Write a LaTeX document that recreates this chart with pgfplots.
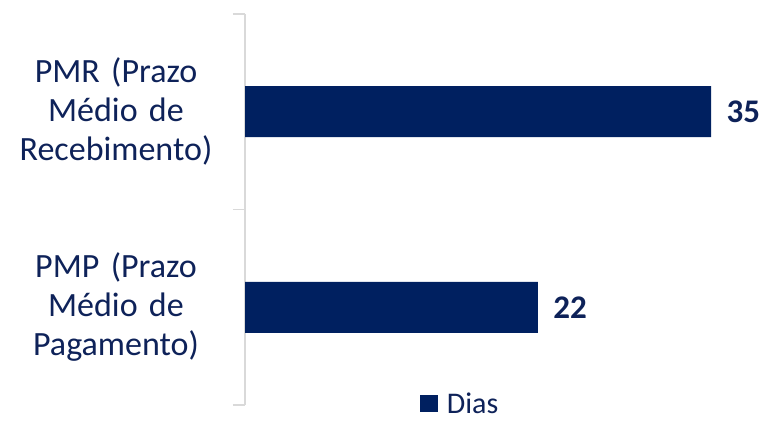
\documentclass[border=0pt]{standalone}
\usepackage{pgfplots}
\pgfplotsset{compat=1.18}
\usepackage{fontspec}
\setmainfont{Carlito}
\definecolor{bar}{HTML}{002060}
\definecolor{txt}{HTML}{0E2259}
\definecolor{axg}{HTML}{D9D9D9}
\begin{document}
\begin{tikzpicture}
\useasboundingbox (0,0) rectangle (762pt,423pt);
\begin{axis}[
  at={(245pt,18pt)}, anchor=south west,
  scale only axis, width=506pt, height=391pt,
  xbar, bar width=51pt,
  xmin=0, xmax=38, ymin=-0.5, ymax=1.5,
  axis x line=none,
  axis y line=left,
  y axis line style={-, draw=axg, line width=1.5pt},
  ytick={-0.5,0.5,1.5},
  yticklabels={},
  tick align=outside,
  major tick length=12pt,
  ytick style={draw=axg, line width=1.5pt},
  extra y ticks={0,1},
  extra y tick labels={{PMP (Prazo\\Médio de\\Pagamento)},{PMR (Prazo\\Médio de\\Recebimento)}},
  extra y tick style={major tick length=0pt, ytick style={draw=none},
    yticklabel style={anchor=east, text width=215pt, align=center, font=\fontsize{34}{39}\selectfont, text=txt, xshift=-18pt}},
  /pgf/number format/assume math mode=true,
  nodes near coords,
  nodes near coords style={anchor=west, xshift=12pt, font=\fontsize{33}{40}\selectfont\bfseries, text=txt},
  legend style={at={(0.425,0.003)}, anchor=center, draw=none, fill=none, font=\fontsize{30}{36}\selectfont, text=txt, inner sep=0pt, column sep=7pt},
  clip=false,
]
\addplot[fill=bar, draw=none, legend image code/.code={\fill[bar] (0pt,-8pt) rectangle (18pt,8.5pt);}] coordinates {(22,0) (35,1)};
\addlegendentry{Dias}
\end{axis}
\end{tikzpicture}
\end{document}
